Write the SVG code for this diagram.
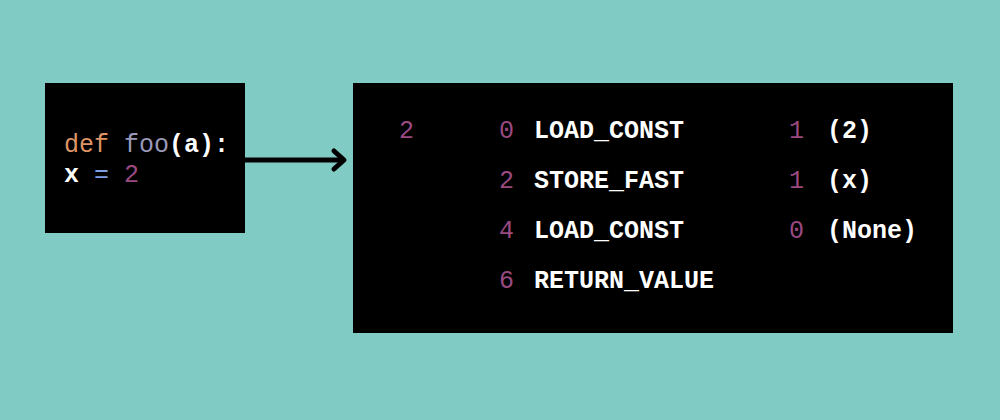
<svg xmlns="http://www.w3.org/2000/svg" width="1000" height="420" viewBox="0 0 1000 420">
<style>
text{font-family:"Liberation Mono","Courier New",monospace;font-size:25px;}
.w{fill:#ffffff;font-weight:bold;}
.n{fill:#9a4a80;}
.k{fill:#de9464;}
.f{fill:#9a9ab8;}
.o{fill:#7f9ee6;}
.box{fill:#000000;}
</style>
<rect width="1000" height="420" fill="#80cbc4"/>
<g id="source">
<rect class="box" x="45" y="83" width="200" height="150"/>
<text x="64" y="152"><tspan class="k">def</tspan> <tspan class="f">foo</tspan><tspan class="w">(a):</tspan></text>
<text x="64" y="182"><tspan class="w">x</tspan> <tspan class="o">=</tspan> <tspan class="n">2</tspan></text>
</g>
<g id="connectors">
<line x1="245" y1="160" x2="342" y2="160" stroke="#000" stroke-width="5"/>
<polyline points="334,151 344,160 334,169" fill="none" stroke="#000" stroke-width="5" stroke-linecap="round" stroke-linejoin="round"/>
</g>
<g id="bytecode">
<rect class="box" x="353" y="83" width="600" height="250"/>
<text class="n" x="399" y="138">2</text>
<text class="n" x="499" y="138">0</text>
<text class="w" x="534" y="138">LOAD_CONST</text>
<text class="n" x="789" y="138">1</text>
<text class="w" x="827" y="138">(2)</text>
<text class="n" x="499" y="188">2</text>
<text class="w" x="534" y="188">STORE_FAST</text>
<text class="n" x="789" y="188">1</text>
<text class="w" x="827" y="188">(x)</text>
<text class="n" x="499" y="238">4</text>
<text class="w" x="534" y="238">LOAD_CONST</text>
<text class="n" x="789" y="238">0</text>
<text class="w" x="827" y="238">(None)</text>
<text class="n" x="499" y="288">6</text>
<text class="w" x="534" y="288">RETURN_VALUE</text>
</g>
</svg>
